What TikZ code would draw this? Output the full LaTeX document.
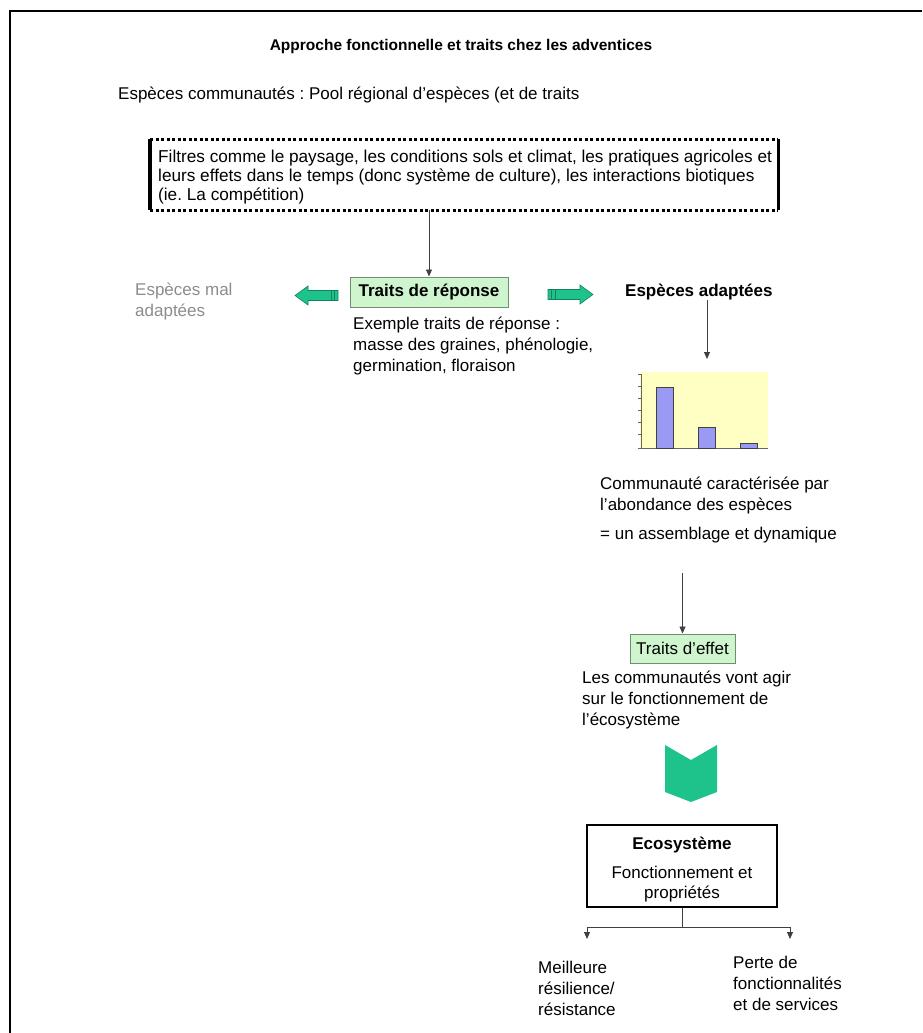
\documentclass[tikz,border=0pt]{standalone}
\usepackage{fontspec}
\setmainfont{Liberation Sans}
\usetikzlibrary{arrows.meta}
\frenchspacing
\definecolor{boxgreen}{HTML}{CFF5CF}
\definecolor{boxedge}{HTML}{6F8F6F}
\definecolor{arrowgreen}{HTML}{1EC38C}
\definecolor{arrowedge}{HTML}{13835C}
\definecolor{chartyellow}{HTML}{FFFFC4}
\definecolor{barblue}{HTML}{9A9AF5}
\definecolor{lightgraytext}{HTML}{8C8C8C}
\begin{document}
\begin{tikzpicture}[x=1pt,y=-1pt,
  txt/.style={font=\fontsize{17}{21}\selectfont, inner sep=0pt, align=left},
  greenbox/.style={draw=boxedge, fill=boxgreen, line width=1pt, inner sep=0pt},
  arr/.style={-{Triangle[length=7pt,width=6pt]}, line width=0.8pt, draw=black!75},
  link/.style={line width=0.8pt, draw=black!75},
  blockarrow/.style={fill=arrowgreen, draw=arrowedge, line width=0.6pt},
]
\useasboundingbox (0,0) rectangle (922,1033);
% page frame
\draw[line width=2.5pt] (10,1033) -- (10,11) -- (922,11);

% title and pool
\node[font=\bfseries\fontsize{15.5}{18}\selectfont, inner sep=0pt] (title) at (461,46) {Approche fonctionnelle et traits chez les adventices};
\node[txt, anchor=west] (pool) at (118,95) {Espèces communautés : Pool régional d’espèces (et de traits};

% filter box
\node[inner sep=0pt, minimum width=628pt, minimum height=71pt, anchor=north west] (filt) at (150,139) {};
\draw[line width=3.5pt] (filt.north west) -- (filt.south west);
\draw[line width=3.5pt] (filt.north east) -- (filt.south east);
\draw[line width=3pt, dash pattern=on 3pt off 2.5pt] (filt.north west) -- (filt.north east);
\draw[line width=3pt, dash pattern=on 3pt off 2.5pt] (filt.south west) -- (filt.south east);
\node[txt, font=\fontsize{17.2}{19}\selectfont, anchor=north west] (filttext) at (158,150)
  {Filtres comme le paysage, les conditions sols et climat, les pratiques agricoles et\\
   leurs effets dans le temps (donc système de culture), les interactions biotiques\\
   (ie. La compétition)};

% response traits
\node[greenbox, minimum width=158pt, minimum height=30pt, font=\bfseries\fontsize{17}{20}\selectfont] (rep) at (429,292) {Traits de réponse};
\draw[arr] (rep.north |- filt.south) -- (rep.north);

\node[txt, text=lightgraytext, anchor=north west] (mal) at (135,283) {Espèces mal\\adaptées};
\node[txt, font=\bfseries\fontsize{17}{21}\selectfont, anchor=west] (adapt) at (625,292) {Espèces adaptées};

% block arrows
\draw[blockarrow] (295,295.5) -- (308,286) -- (308,290.5) -- (338,290.5) -- (338,300.5) -- (308,300.5) -- (308,305) -- cycle;
\draw[arrowedge, line width=0.6pt] (331,290.5) -- (331,300.5) (334.5,290.5) -- (334.5,300.5);
\draw[blockarrow] (593,294.5) -- (580,285) -- (580,289.5) -- (548,289.5) -- (548,299.5) -- (580,299.5) -- (580,304) -- cycle;
\draw[arrowedge, line width=0.6pt] (551.5,289.5) -- (551.5,299.5) (555,289.5) -- (555,299.5);

\node[txt, anchor=north west] (ex) at (353,317) {Exemple traits de réponse :\\masse des graines, phénologie,\\germination, floraison};

% chart
\node[fill=chartyellow, inner sep=0pt, minimum width=128pt, minimum height=77pt] (chart) at (704,410.5) {};
\coordinate (chtop) at (707,359);
\draw[arr] (adapt.south -| chtop) -- (chtop);
\draw[black!60, line width=0.6pt] (641,374) -- (641,448) -- (768,448);
\foreach \t in {374,386,398,410,422,434,448} \draw[black!60, line width=0.5pt] (638,\t) -- (641,\t);
\draw[fill=barblue, draw=black!75, line width=0.8pt] (656,387) rectangle (673,448);
\draw[fill=barblue, draw=black!75, line width=0.8pt] (698,427) rectangle (715,448);
\draw[fill=barblue, draw=black!75, line width=0.8pt] (740,443) rectangle (757,448);

\node[txt, anchor=north west] (comm) at (600,477) {Communauté caractérisée par\\l’abondance des espèces};
\node[txt, anchor=west] (assem) at (600,535) {= un assemblage et dynamique};

% effect traits
\node[greenbox, minimum width=105pt, minimum height=29pt, font=\fontsize{17}{20}\selectfont] (eff) at (682.5,648.5) {Traits d’effet};
\coordinate (effsrc) at (682.5,573);
\draw[arr] (effsrc) -- (eff.north);

\node[txt, anchor=north west] (agir) at (582,671) {Les communautés vont agir\\sur le fonctionnement de\\l’écosystème};

% chevron
\fill[arrowgreen] (665,745) -- (691,760) -- (717,745) -- (717,792) -- (691,802) -- (665,792) -- cycle;

% ecosystem box
\node[draw, line width=2.8pt, minimum width=190pt, minimum height=82pt, inner sep=0pt] (eco) at (682,866) {};
\node[inner sep=0pt, align=center, font=\fontsize{17}{20}\selectfont] (ecotext) at (682,870)
  {\textbf{Ecosystème}\\[9pt]Fonctionnement et\\propriétés};

\coordinate (j) at (682,927);
\coordinate (bl) at (587,939);
\coordinate (br) at (790,939);
\draw[link] (eco.south) -- (j);
\draw[arr] (j) -| (bl);
\draw[arr] (j) -| (br);

\node[txt, anchor=north west] (mei) at (538,961) {Meilleure\\résilience/\\résistance};
\node[txt, anchor=north west] (perte) at (733,956) {Perte de\\fonctionnalités\\et de services};
\end{tikzpicture}
\end{document}
